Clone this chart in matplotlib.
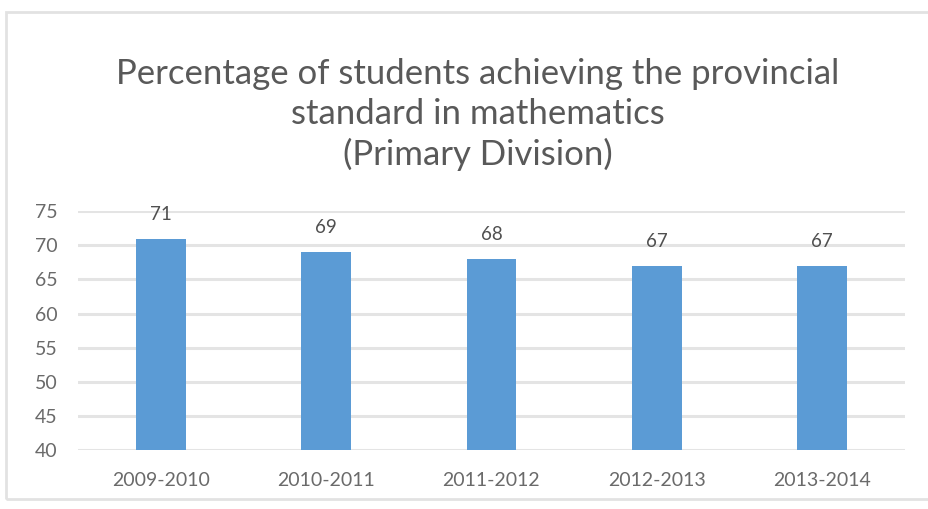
import matplotlib.pyplot as plt
from matplotlib.patches import Rectangle

years = ["2009-2010", "2010-2011", "2011-2012", "2012-2013", "2013-2014"]
percent = [71, 69, 68, 67, 67]
yticks = [40, 45, 50, 55, 60, 65, 70, 75]

plt.rcParams['font.family'] = ['Lato', 'DejaVu Sans']

fig = plt.figure(figsize=(9.29, 5.09), dpi=100)
fig.patches.append(Rectangle((0.006, 0.02), 1.2, 0.957, transform=fig.transFigure,
                             fill=False, edgecolor='#e2e2e2', linewidth=2))

ax = fig.add_axes([0.084, 0.116, 0.890, 0.469])
x = range(len(years))
bars = ax.bar(x, percent, width=0.3, color='#5b9bd5', zorder=3)
for i, v in enumerate(percent):
    ax.text(i, v + 2.3, str(v), ha='center', va='bottom', fontsize=13.5, color='#505050')

ax.set_ylim(40, 75)
ax.set_xlim(-0.5, len(years) - 0.5)
ax.set_yticks(yticks)
ax.set_xticks(list(x))
ax.set_xticklabels(years)
ax.yaxis.grid(True, color='#e4e4e4', linewidth=2.2, zorder=0)
ax.tick_params(axis='both', length=0, labelsize=14, colors='#6a6a6a')
ax.tick_params(axis='x', pad=16)
ax.tick_params(axis='y', pad=15)
for s in ax.spines.values():
    s.set_visible(False)

fig.text(0.514, 0.775, "Percentage of students achieving the provincial\nstandard in mathematics\n(Primary Division)",
         ha='center', va='center', fontsize=25, color='#595959', linespacing=1.3)

fig.savefig('out.png', dpi=100)
